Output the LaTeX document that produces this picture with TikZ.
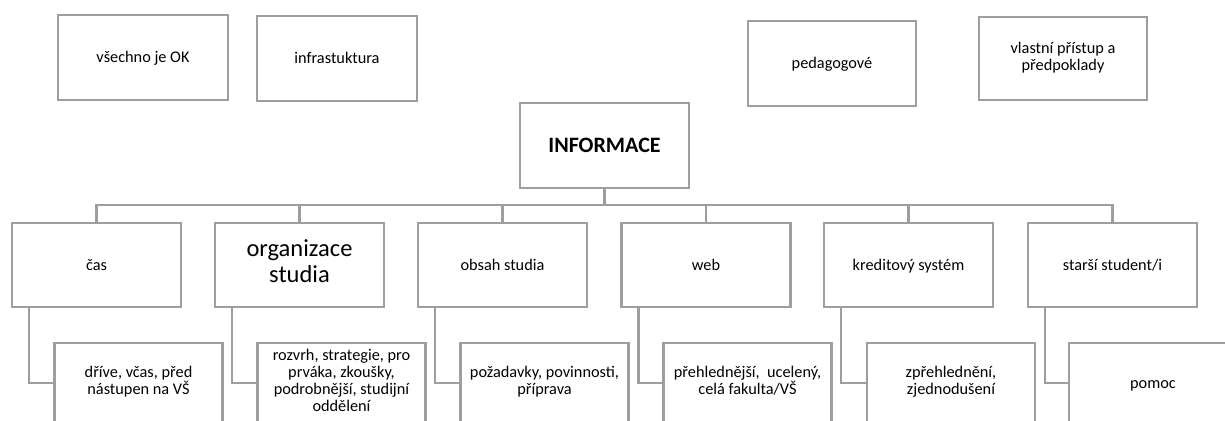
\documentclass[tikz,border=0pt]{standalone}
\usepackage{fontspec}
\setmainfont{Carlito}
\definecolor{bordergray}{RGB}{158,158,158}
\begin{document}
\begin{tikzpicture}[x=1pt,y=-1pt,
  box/.style={draw=bordergray, line width=2.5pt, fill=white, inner sep=0pt, align=center,
    font=\fontsize{16.3}{17}\selectfont,
    execute at begin node={\rule{0pt}{\dimexpr0.7\baselineskip+4pt\relax}},
    execute at end node=\strut},
  conn/.style={draw=bordergray, line width=2.5pt}]
\path[clip] (0,0) rectangle (1225,420);
\useasboundingbox (0,0) rectangle (1225,420);
\fill[white] (0,0) rectangle (1225,420);
% top loose boxes
\node[box, minimum width=170pt, minimum height=85pt] (ok) at (143,57.5) {všechno je OK};
\node[box, minimum width=160pt, minimum height=85pt] (infra) at (337,58.5) {infrastuktura};
\node[box, minimum width=168pt, minimum height=85pt] (ped) at (832,63.5) {pedagogové};
\node[box, minimum width=168pt, minimum height=83pt] (vl) at (1063,58.5) {vlastní přístup a\\předpoklady};
% root
\node[box, minimum width=169pt, minimum height=85pt, font=\fontsize{22}{24}\selectfont\bfseries] (info) at (604.5,145.5) {INFORMACE};
% level 2
\node[box, minimum width=169pt, minimum height=84pt] (c1) at (96.5,265) {čas};
\node[box, minimum width=169pt, minimum height=84pt, font=\fontsize{24.5}{26.5}\selectfont] (c2) at (299.5,265) {organizace\\studia};
\node[box, minimum width=169pt, minimum height=84pt] (c3) at (502.5,265) {obsah studia};
\node[box, minimum width=169pt, minimum height=84pt] (c4) at (706,265) {web};
\node[box, minimum width=169pt, minimum height=84pt] (c5) at (908.5,265) {kreditový systém};
\node[box, minimum width=169pt, minimum height=84pt] (c6) at (1112.5,265) {starší student/i};
% level 3
\node[box, minimum width=168pt, minimum height=80pt] (d1) at (138.5,383) {dříve, včas, před\\nástupen na VŠ};
\node[box, minimum width=168pt, minimum height=80pt] (d2) at (341.5,383) {rozvrh, strategie, pro\\prváka, zkoušky,\\podrobnější, studijní\\oddělení};
\node[box, minimum width=168pt, minimum height=80pt] (d3) at (544.5,383) {požadavky, povinnosti,\\příprava};
\node[box, minimum width=168pt, minimum height=80pt] (d4) at (747.5,383) {přehlednější,\ \ ucelený,\\celá fakulta/VŠ};
\node[box, minimum width=168pt, minimum height=80pt] (d5) at (951,383) {zpřehlednění,\\zjednodušení};
\node[box, minimum width=168pt, minimum height=80pt] (d6) at (1153,383) {pomoc};
% connectors
\coordinate (bus) at (604.5,205);
\draw[conn] (info.south) -- (info.south |- bus);
\foreach \c in {c1,c2,c3,c4,c5,c6}{
  \draw[conn] (\c.north) |- (bus);
}
\foreach \c/\d in {c1/d1,c2/d2,c3/d3,c4/d4,c5/d5,c6/d6}{
  \draw[conn] ([xshift=18pt]\c.south west) |- (\d.west);
}
\end{tikzpicture}
\end{document}
